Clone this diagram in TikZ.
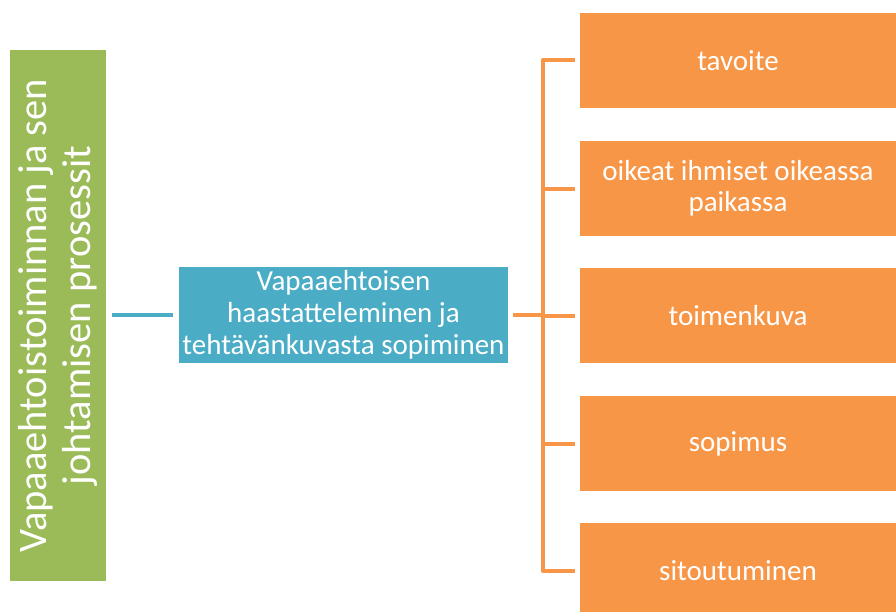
\documentclass[tikz,border=0pt]{standalone}
\usepackage{fontspec}
\setmainfont{Carlito}
\definecolor{cgreen}{HTML}{9BBB59}
\definecolor{cblue}{HTML}{4BACC6}
\definecolor{corange}{HTML}{F79646}
\begin{document}
\begin{tikzpicture}[x=1pt,y=-1pt,
  box/.style={inner sep=0pt, text=white, align=center},
  obox/.style={box, fill=corange, minimum width=316pt, minimum height=95pt, font=\fontsize{29}{31}\selectfont},
  oline/.style={draw=corange, line width=4pt},
  bline/.style={draw=cblue, line width=4pt}]
\useasboundingbox (0,0) rectangle (896,611);
\clip (0,0) rectangle (896,611);
\node[box, fill=cgreen, minimum width=531pt, minimum height=96pt, rotate=90,
  font=\fontsize{40.5}{44}\selectfont] (g) at (58,315.5) {Vapaaehtoistoiminnan ja sen\\johtamisen prosessit};
\node[box, fill=cblue, minimum width=329pt, minimum height=96pt,
  font=\fontsize{29}{32}\selectfont] (b) at (343.5,315) {Vapaaehtoisen\\haastatteleminen ja\\tehtävänkuvasta sopiminen};
\node[obox] (o1) at (738,60.5) {tavoite};
\node[obox] (o2) at (738,188.5) {oikeat ihmiset oikeassa\\paikassa};
\node[obox] (o3) at (738,315.5) {toimenkuva};
\node[obox] (o4) at (738,443.5) {sopimus};
\node[obox] (o5) at (738,570.5) {sitoutuminen};
\coordinate (t1) at (543,60);
\coordinate (t5) at (543,571);
\coordinate (tm) at (543,315);
\draw[bline] ([xshift=6pt]g.south |- b.west) -- ([xshift=-6pt]b.west);
\draw[oline] ([xshift=5pt]b.east) -- (tm);
\draw[oline, line join=round] ([xshift=-5pt]o1.west |- t1) -- (t1) -- (t5) -- ([xshift=-5pt]o5.west |- t5);
\foreach \i in {2,3,4} \draw[oline] (tm |- o\i.west) -- ([xshift=-5pt]o\i.west);
\end{tikzpicture}
\end{document}
